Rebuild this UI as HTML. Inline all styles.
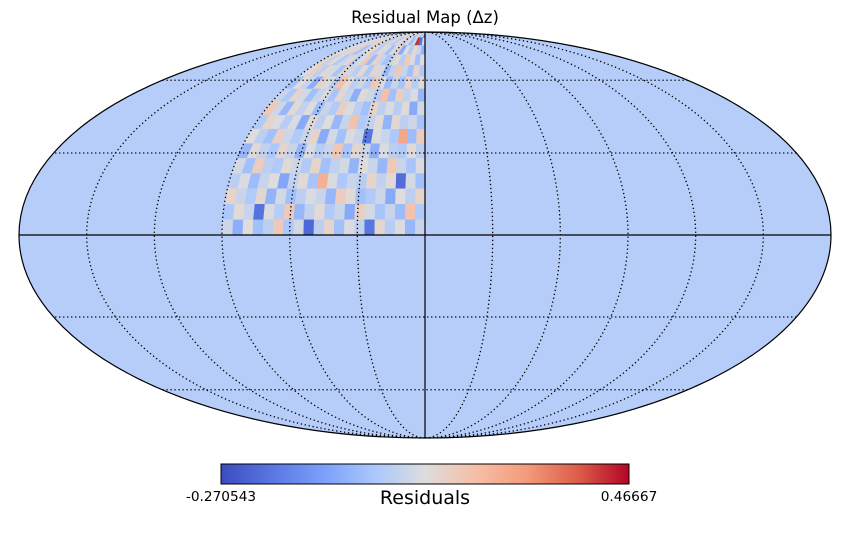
<!DOCTYPE html>
<html><head><meta charset="utf-8"><style>
body{margin:0;background:#fff;width:850px;height:540px;overflow:hidden;font-family:"DejaVu Sans","Liberation Sans",sans-serif}
</style></head><body>
<svg id="c" width="850" height="540" viewBox="0 0 850 540" font-family="DejaVu Sans, Liberation Sans, sans-serif">
<defs>
<clipPath id="ell"><ellipse cx="425" cy="235" rx="406" ry="203"/></clipPath>
<linearGradient id="cw" x1="0" x2="1" y1="0" y2="0">
<stop offset="0" stop-color="#3b4cc0"/><stop offset="0.125" stop-color="#5977e3"/><stop offset="0.25" stop-color="#7b9ff9"/><stop offset="0.375" stop-color="#aac7fd"/><stop offset="0.5" stop-color="#dddddd"/><stop offset="0.625" stop-color="#f6bfa6"/><stop offset="0.75" stop-color="#f49a7b"/><stop offset="0.875" stop-color="#dc5d4a"/><stop offset="1" stop-color="#b40426"/>
</linearGradient>
</defs>
<text x="425" y="23" text-anchor="middle" font-size="16.5">Residual Map (Δz)</text>
<ellipse cx="425" cy="235" rx="406" ry="203" fill="#b5cdf8"/>
<g id="cells" clip-path="url(#ell)"></g>
<g id="grat" clip-path="url(#ell)"></g>
<ellipse cx="425" cy="235" rx="406" ry="203" fill="none" stroke="#000" stroke-width="1.2"/>
<rect x="221" y="464" width="408" height="20" fill="url(#cw)" stroke="#000" stroke-width="1"/>
<text id="vminT" x="221" y="501" text-anchor="middle" font-size="13.7"></text>
<text id="vmaxT" x="629" y="501" text-anchor="middle" font-size="13.7"></text>
<text x="425" y="504" text-anchor="middle" font-size="19">Residuals</text>
</svg>
<script>
const vmin = -0.270543;
const vmax = 0.46667;
const vminLabel = "-0.270543";
const vmaxLabel = "0.46667";
const lonRange = [0, 90];
const latRange = [0, 90];
const residuals = [
[0.06,-0.03,0.09,0.03,0.12,-0.18,0.05,0.09,-0.01,0.13,0.04,-0.21,0.08,0.01,0.16,0.04,-0.01,0.10,-0.05,0.07],
[0.02,0.18,-0.02,0.06,0.00,0.08,0.14,-0.06,0.06,0.02,0.11,0.05,-0.03,0.16,0.03,0.09,-0.19,0.06,0.11,0.01],
[0.13,0.04,0.10,-0.06,0.07,0.02,-0.01,0.11,0.15,-0.03,0.06,0.09,0.04,-0.01,0.08,-0.04,0.12,0.02,0.06,0.13],
[-0.01,0.08,-0.20,0.11,0.05,0.13,0.03,0.06,0.01,0.09,0.23,0.00,0.11,0.05,-0.07,0.10,0.06,-0.02,0.09,0.04],
[0.09,0.00,0.06,0.16,-0.03,0.06,0.10,-0.04,0.08,0.05,-0.01,0.13,0.02,0.07,0.11,0.02,0.04,0.15,-0.01,0.08],
[0.04,0.11,0.02,0.04,0.09,-0.05,0.07,0.12,0.00,0.17,0.06,0.03,0.09,-0.03,0.06,0.12,0.01,0.05,0.11,-0.03],
[0.15,-0.02,0.25,0.01,0.06,0.09,-0.18,0.06,0.09,-0.01,0.08,-0.06,0.13,0.06,0.02,0.07,0.14,-0.01,0.04,0.10],
[0.00,0.07,0.04,0.12,-0.04,0.11,0.05,0.02,0.18,0.06,-0.03,0.10,0.04,0.11,-0.06,0.09,0.03,0.09,0.13,0.02],
[0.08,-0.06,0.11,0.03,0.09,0.04,0.13,-0.01,0.04,0.09,0.14,0.02,0.06,-0.02,0.10,0.05,0.11,-0.03,0.07,0.16],
[-0.03,0.09,0.05,0.14,-0.01,0.19,0.02,0.07,0.11,-0.05,0.06,0.12,0.00,0.09,0.06,-0.01,0.08,0.13,0.01,0.06],
[0.11,0.03,0.13,0.00,0.06,-0.02,0.09,0.16,0.02,0.07,0.04,0.11,0.18,0.03,0.09,0.13,-0.05,0.06,0.10,-0.01],
[0.02,0.13,-0.01,0.06,0.16,0.05,-0.03,0.08,0.12,0.01,0.11,0.04,0.07,0.13,0.00,0.08,0.11,0.04,0.14,0.09],
[0.10,-0.01,0.09,0.15,0.03,0.11,0.06,0.00,0.06,0.13,-0.02,0.16,0.09,0.02,0.12,0.07,0.02,0.11,0.05,0.13],
[-0.04,0.06,0.12,0.02,0.10,-0.06,0.13,0.09,-0.01,0.08,0.11,0.03,0.13,0.10,0.06,-0.01,0.14,0.08,0.12,0.09],
[0.09,-0.18,0.42,0.06,-0.02,0.11,0.04,0.14,0.09,0.01,0.13,0.07,0.02,0.11,0.15,0.09,0.06,0.13,0.10,0.06],
[-0.20,0.09,-0.01,0.12,0.07,-0.03,0.10,0.05,0.13,0.08,0.02,0.11,0.06,0.09,0.12,0.11,0.07,0.09,0.11,0.08]
];
const gratLons = [-150,-120,-90,-60,-30,0,30,60,90,120,150];
const gratLats = [-60,-30,0,30,60];

const CX=425, CY=235, RX=406, RY=203;
function theta(latDeg){
  const phi=latDeg*Math.PI/180;
  if(Math.abs(Math.abs(latDeg)-90)<1e-9) return Math.sign(latDeg)*Math.PI/2;
  let t=phi;
  for(let i=0;i<50;i++){ const f=2*t+Math.sin(2*t)-Math.PI*Math.sin(phi); const d=2+2*Math.cos(2*t); if(Math.abs(d)<1e-12)break; t-=f/d; }
  return t;
}
function proj(lonDeg,latDeg){ const t=theta(latDeg); return [CX - RX*(lonDeg/180)*Math.cos(t), CY - RY*Math.sin(t)]; }
const stops=[[0,[59,76,192]],[0.125,[89,119,227]],[0.25,[123,159,249]],[0.375,[170,199,253]],[0.5,[221,221,221]],[0.625,[246,191,166]],[0.75,[244,154,123]],[0.875,[220,93,74]],[1,[180,4,38]]];
function color(v){
  let f=Math.max(0,Math.min(1,(v-vmin)/(vmax-vmin)));
  for(let i=1;i<stops.length;i++){ if(f<=stops[i][0]){ const a=stops[i-1],b=stops[i],u=(f-a[0])/(b[0]-a[0]); return 'rgb('+a[1].map((c,k)=>Math.round(c+(b[1][k]-c)*u)).join(',')+')'; } }
  return 'rgb(180,4,38)';
}
const NS='http://www.w3.org/2000/svg';
const cg=document.getElementById('cells');
const nR=residuals.length;
residuals.forEach((row,r)=>{
  const nC=row.length;
  const la0=latRange[0]+(latRange[1]-latRange[0])*r/nR, la1=latRange[0]+(latRange[1]-latRange[0])*(r+1)/nR;
  row.forEach((v,c)=>{
    const lo0=lonRange[0]+(lonRange[1]-lonRange[0])*c/nC, lo1=lonRange[0]+(lonRange[1]-lonRange[0])*(c+1)/nC;
    const pts=[proj(lo0,la0),proj(lo1,la0),proj(lo1,la1),proj(lo0,la1)];
    const p=document.createElementNS(NS,'polygon');
    p.setAttribute('points',pts.map(q=>q[0].toFixed(2)+','+q[1].toFixed(2)).join(' '));
    p.setAttribute('fill',color(v));
    p.setAttribute('stroke',color(v));
    p.setAttribute('stroke-width','0.5');
    
    
    cg.appendChild(p);
  });
});
const gg=document.getElementById('grat');
function line(pts,solid,name){
  const p=document.createElementNS(NS,'polyline');
  p.setAttribute('points',pts.map(q=>q[0].toFixed(2)+','+q[1].toFixed(2)).join(' '));
  p.setAttribute('fill','none');
  p.setAttribute('stroke','#000');
  p.setAttribute('stroke-width',solid?'1.2':'1.3');
  if(!solid) p.setAttribute('stroke-dasharray','1.3,2.7');
  
  
  gg.appendChild(p);
}
gratLons.forEach(lo=>{ const pts=[]; for(let la=-90;la<=90;la+=1) pts.push(proj(lo,la)); line(pts,lo===0,lo===0?'central-meridian':'meridian-line'); });
gratLats.forEach(la=>{ const pts=[]; for(let lo=-180;lo<=180;lo+=2) pts.push(proj(lo,la)); line(pts,la===0,la===0?'equator-line':'parallel-line'); });
document.getElementById('vminT').textContent=vminLabel;
document.getElementById('vmaxT').textContent=vmaxLabel;
</script>
</body></html>
